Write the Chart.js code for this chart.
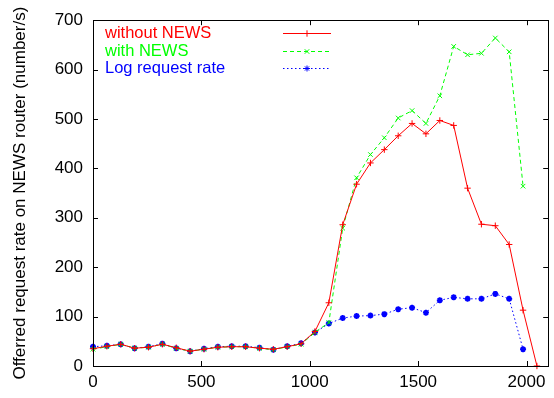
<!DOCTYPE html>
<html>
<head>
<meta charset="utf-8">
<script src="https://cdn.jsdelivr.net/npm/chart.js@4.4.1/dist/chart.umd.min.js"></script>
<style>
  html, body { margin: 0; padding: 0; background: #fff; }
  #wrap { width: 554px; height: 398px; }
</style>
</head>
<body>
<div id="wrap"><canvas id="chart" width="554" height="398"></canvas></div>
<script>
// time (x) positions of the samples
const times = [0, 64, 128, 192, 256, 320, 384, 448, 512, 576, 640, 704, 768, 832, 896, 960,
  1024, 1088, 1152, 1216, 1280, 1344, 1408, 1472, 1536, 1600, 1664, 1728, 1792, 1856, 1920, 1984, 2048];

const withoutNews = [35, 40, 44, 36, 38, 44, 37, 30, 34, 38, 39, 39, 36, 34, 39, 45,
  70, 128, 286, 368, 411, 438, 466, 491, 470, 497, 487, 360, 287, 284, 246, 113, 0];
const withNews = [34, 39, 44, 36, 38, 44, 36, 30, 34, 38, 39, 39, 36, 33, 39, 44,
  68, 88, 279, 381, 428, 462, 502, 517, 491, 547, 647, 630, 633, 664, 636, 364];
const logRate = [39, 41, 44, 36, 39, 45, 36, 30, 35, 39, 40, 40, 37, 33, 40, 46,
  68, 86, 97, 101, 102, 105, 115, 118, 108, 133, 139, 136, 136, 146, 136, 34];

const xTicks = [0, 500, 1000, 1500, 2000];
const yTicks = [0, 100, 200, 300, 400, 500, 600, 700];

const FONT = '"Liberation Sans", Arial, Helvetica, sans-serif';

function pts(vals) {
  return vals.map((v, i) => ({ x: times[i], y: v }));
}

// gnuplot style frame with inward ticks on all four sides
const framePlugin = {
  id: 'frame',
  afterDraw(chart) {
    const { ctx, chartArea: a, scales } = chart;
    const tl = 5;
    ctx.save();
    ctx.strokeStyle = '#000';
    ctx.lineWidth = 1;
    ctx.beginPath();
    xTicks.forEach(v => {
      const px = Math.round(scales.x.getPixelForValue(v)) + 0.5;
      ctx.moveTo(px, a.bottom); ctx.lineTo(px, a.bottom - tl);
      ctx.moveTo(px, a.top); ctx.lineTo(px, a.top + tl);
    });
    yTicks.forEach(v => {
      const py = Math.round(scales.y.getPixelForValue(v)) + 0.5;
      ctx.moveTo(a.left, py); ctx.lineTo(a.left + tl, py);
      ctx.moveTo(a.right, py); ctx.lineTo(a.right - tl, py);
    });
    ctx.stroke();
    ctx.strokeRect(Math.round(a.left) + 0.5, Math.round(a.top) + 0.5,
      Math.round(a.right - a.left), Math.round(a.bottom - a.top));
    ctx.restore();
  }
};

// key in top left corner: text first, then line sample
const keyPlugin = {
  id: 'key',
  afterDatasetsDraw(chart) {
    const { ctx } = chart;
    const rows = [33, 51, 68];
    ctx.save();
    ctx.font = '16.5px ' + FONT;
    ctx.textBaseline = 'middle';
    ctx.textAlign = 'left';
    chart.data.datasets.forEach((ds, i) => {
      const y = rows[i];
      ctx.fillStyle = ds.borderColor;
      ctx.fillText(ds.label, 105, y);
      ctx.strokeStyle = ds.borderColor;
      ctx.lineWidth = 1;
      ctx.setLineDash(ds.borderDash || []);
      ctx.beginPath();
      ctx.moveTo(283, y + 0.5);
      ctx.lineTo(331, y + 0.5);
      ctx.stroke();
      ctx.setLineDash([]);
      ctx.fillStyle = ds.borderColor;
      Chart.helpers.drawPoint(ctx, {
        pointStyle: ds.pointStyle, radius: ds.pointRadius, borderWidth: ds.pointBorderWidth, rotation: 0
      }, 307, y + 0.5);
    });
    ctx.restore();
  }
};

new Chart(document.getElementById('chart'), {
  type: 'line',
  data: {
    datasets: [
      {
        label: 'without NEWS', data: pts(withoutNews),
        borderColor: '#ff0000', backgroundColor: '#ff0000',
        borderWidth: 1, pointStyle: 'cross', pointRadius: 3.2, pointBorderWidth: 1,
        clip: false
      },
      {
        label: 'with NEWS', data: pts(withNews),
        borderColor: '#00ff00', backgroundColor: '#00ff00',
        borderWidth: 1, borderDash: [4, 3], pointStyle: 'crossRot', pointRadius: 3.2, pointBorderWidth: 1,
        clip: false
      },
      {
        label: 'Log request rate', data: pts(logRate),
        borderColor: '#0000ff', backgroundColor: '#0000ff',
        borderWidth: 1, borderDash: [1.5, 2.5], pointStyle: 'star', pointRadius: 3, pointBorderWidth: 1.8,
        clip: false
      }
    ]
  },
  options: {
    responsive: false,
    animation: false,
    events: [],
    layout: { padding: { top: 19, right: 3, left: 0, bottom: 0 } },
    plugins: { legend: { display: false }, tooltip: { enabled: false } },
    scales: {
      x: {
        type: 'linear', min: 0, max: 2100,
        afterBuildTicks: s => { s.ticks = xTicks.map(v => ({ value: v })); },
        afterFit: s => { s.height = 32; },
        grid: { display: false, drawTicks: false },
        border: { display: false },
        ticks: {
          padding: 6, color: '#000', font: { family: FONT, size: 17 }, maxRotation: 0,
          callback: v => String(v)
        }
      },
      y: {
        min: 0, max: 700,
        afterBuildTicks: s => { s.ticks = yTicks.map(v => ({ value: v })); },
        afterFit: s => { s.width = 93; },
        grid: { display: false, drawTicks: false },
        border: { display: false },
        ticks: { padding: 10, color: '#000', font: { family: FONT, size: 17 }, callback: v => String(v) },
        title: {
          display: true, text: 'Offerred request rate on NEWS router (number/s)',
          color: '#000', font: { family: FONT, size: 17 }, padding: { top: 10, bottom: 0 }
        }
      }
    }
  },
  plugins: [framePlugin, keyPlugin]
});
</script>
</body>
</html>
